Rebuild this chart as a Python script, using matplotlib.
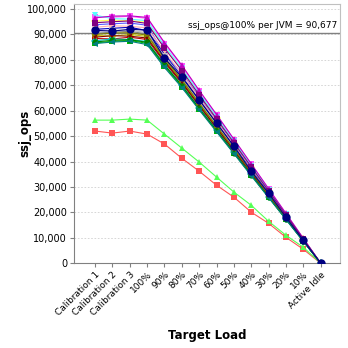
#!/usr/bin/env python3
"""ssj_ops per JVM across target load levels."""

import matplotlib
matplotlib.use("Agg")
import matplotlib.pyplot as plt
from matplotlib.ticker import FuncFormatter

LOADS = ["Calibration 1", "Calibration 2", "Calibration 3", "100%", "90%", "80%",
         "70%", "60%", "50%", "40%", "30%", "20%", "10%", "Active Idle"]

AVG_100 = 90677

# one list per JVM (ssj_ops at each load level)
jvm_00 = [52000, 51200, 52000, 50800, 46900, 41300, 36200, 30700, 26000, 20100, 15700, 10200, 5500, 0]
jvm_01 = [93800, 94200, 94500, 93600, 82300, 74800, 65400, 56200, 46800, 37400, 28100, 18700, 9400, 0]
jvm_02 = [56300, 56300, 56700, 56300, 50800, 45300, 39800, 33900, 28000, 22800, 16500, 11000, 6300, 0]
jvm_03 = [95200, 95600, 95400, 94800, 84600, 76000, 66300, 57000, 47500, 38000, 28500, 19000, 9500, 0]
jvm_04 = [97000, 96800, 97100, 96300, 86400, 77500, 67700, 58300, 48600, 38900, 29200, 19500, 9700, 0]
jvm_05 = [97600, 96200, 96000, 95400, 85500, 76600, 67000, 57600, 48000, 38400, 28800, 19200, 9600, 0]
jvm_06 = [92800, 93400, 93200, 92600, 83200, 74500, 65000, 55800, 46400, 37100, 27900, 18600, 9300, 0]
jvm_07 = [90400, 90900, 91200, 90200, 81000, 72500, 63300, 54200, 45200, 36200, 27100, 18100, 9000, 0]
jvm_08 = [88400, 88200, 88900, 88000, 79000, 70700, 61700, 52900, 44100, 35300, 26500, 17600, 8800, 0]
jvm_09 = [92000, 92400, 92800, 91500, 82100, 73500, 64200, 55100, 45900, 36700, 27500, 18400, 9200, 0]
jvm_10 = [86600, 87300, 87600, 86500, 77500, 69500, 60600, 52000, 43300, 34600, 25900, 17300, 8600, 0]
jvm_11 = [89600, 89300, 90000, 89200, 80000, 71700, 62500, 53600, 44700, 35800, 26800, 17900, 8900, 0]
jvm_12 = [96500, 97200, 97300, 96700, 86800, 77900, 68000, 58500, 48800, 39100, 29300, 19600, 9800, 0]
jvm_13 = [87500, 88200, 88000, 87200, 78200, 70100, 61200, 52500, 43700, 35000, 26200, 17500, 8700, 0]
jvm_14 = [91200, 91700, 91500, 90800, 81500, 73000, 63700, 54700, 45600, 36500, 27300, 18200, 9100, 0]
jvm_15 = [88900, 89500, 89300, 88600, 79500, 71200, 62100, 53300, 44400, 35600, 26700, 17800, 8900, 0]
jvm_16 = [87000, 87700, 87900, 86900, 78000, 69900, 60900, 52300, 43500, 34800, 26100, 17400, 8700, 0]
jvm_17 = [90000, 90500, 90700, 89700, 80500, 72100, 62900, 54000, 45000, 36000, 27000, 18000, 9000, 0]
jvm_18 = [94600, 95000, 95300, 94300, 84600, 75800, 66200, 56800, 47400, 37900, 28400, 19000, 9500, 0]
jvm_19 = [86400, 87000, 87300, 86000, 77000, 69100, 60300, 51700, 43100, 34400, 25800, 17200, 8600, 0]
jvm_20 = [91600, 91300, 92000, 91700, 80700, 73200, 64200, 55100, 46000, 36200, 27500, 18100, 9000, 0]

SERIES = [jvm_00, jvm_01, jvm_02, jvm_03, jvm_04, jvm_05, jvm_06, jvm_07, jvm_08, jvm_09,
          jvm_10, jvm_11, jvm_12, jvm_13, jvm_14, jvm_15, jvm_16, jvm_17, jvm_18, jvm_19, jvm_20]

COLORS = ["#FF5555", "#5555FF", "#55FF55", "#FFFF55", "#FF55FF", "#55FFFF", "#FFAFAF",
          "#808080", "#C00000", "#0000C0", "#00C000", "#C0C000", "#C000C0", "#00C0C0",
          "#C0C0C0", "#800000", "#008000", "#808000", "#800080", "#008080", "#000080"]
MARKERS = ["s", "o", "^", "D", "s", "v", "o", ">", "s", "<",
           "s", "o", "^", "D", "s", "v", "o", ">", "s", "<", "o"]

fig = plt.figure(figsize=(3.48, 3.48), dpi=100)
ax = fig.add_axes([74 / 348, 1 - 263.3 / 348, 266 / 348, 259.3 / 348])

x = list(range(len(LOADS)))
for i, (vals, c, m) in enumerate(zip(SERIES, COLORS, MARKERS)):
    ms = 6 if i == len(SERIES) - 1 else 4.5
    ax.plot(x, vals, color=c, marker=m, markersize=ms, linewidth=0.8,
            markeredgewidth=0, zorder=3 + i * 0.01)

ax.axhline(AVG_100, color="#808080", linewidth=1.0, zorder=2)
ax.text(13.95, AVG_100 + 900, "ssj_ops@100% per JVM = 90,677", ha="right", va="bottom",
        fontsize=6.5, color="#000000")

ax.set_xlim(-1.21, 14.11)
ax.set_ylim(0, 101960)
ax.set_yticks(range(0, 100001, 10000))
ax.yaxis.set_major_formatter(FuncFormatter(lambda v, p: f"{int(v):,}"))
ax.set_xticks(x)
ax.set_xticklabels(LOADS, rotation=45, ha="right", rotation_mode="anchor", fontsize=6.5)
ax.tick_params(axis="y", labelsize=7, length=3, color="#808080", pad=2)
ax.tick_params(axis="x", length=3, color="#808080", pad=2)
ax.grid(axis="y", color="#D0D0D0", linestyle=(0, (2, 2)), linewidth=0.6)
ax.set_axisbelow(True)

for side in ["top", "right"]:
    ax.spines[side].set_color("#C0C0C0")
for side in ["left", "bottom"]:
    ax.spines[side].set_color("#808080")

ax.set_ylabel("ssj_ops", fontsize=8.5, fontweight="bold", va="center")
ax.yaxis.set_label_coords(-0.184, 0.5)
ax.set_xlabel("Target Load", fontsize=8.5, fontweight="bold", labelpad=8)

fig.savefig("out.png", dpi=100)
